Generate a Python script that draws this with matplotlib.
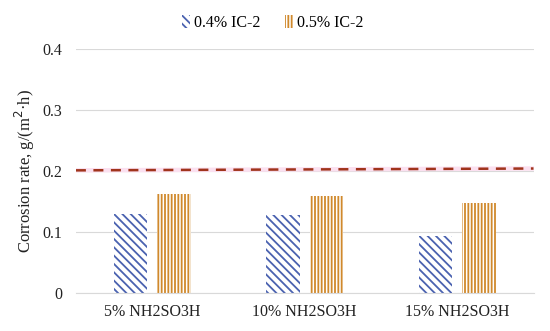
import numpy as np
import matplotlib.pyplot as plt

plt.rcParams['font.family'] = ['Liberation Serif', 'DejaVu Serif']
plt.rcParams['hatch.linewidth'] = 1.3

# Data
categories = ['5% NH2SO3H', '10% NH2SO3H', '15% NH2SO3H']
ic2_04 = [0.13, 0.128, 0.093]
ic2_05 = [0.162, 0.159, 0.148]
blank_line = [0.201, 0.204]

fig = plt.figure(figsize=(5.5, 3.31), dpi=100)
ax = fig.add_axes([0.138, 0.115, 0.832, 0.737])

x = np.arange(len(categories))
width = 0.22
offset = 0.142

# Bars with hatch patterns
ax.bar(x - offset, ic2_04, width, color='white', edgecolor='#4a62b0',
       hatch='\\\\\\\\', linewidth=0, label='0.4% IC-2')
ax.bar(x + offset, ic2_05, width, color='white', edgecolor='#d0892c',
       hatch='|||||', linewidth=0, label='0.5% IC-2')

# Dashed reference line
ax.plot([-0.5, 2.5], blank_line, color='#fbe0f0', linewidth=3.2, zorder=3)
ax.plot([-0.5, 2.5], blank_line, color='#a0341c', linewidth=1.8,
        linestyle=(0, (4, 3)), zorder=4)

ax.set_xlim(-0.5, 2.5)
ax.set_ylim(0, 0.4)
ax.set_yticks([0, 0.1, 0.2, 0.3, 0.4])
ax.set_yticklabels(['0', '0.1', '0.2', '0.3', '0.4'])
ax.set_xticks(x)
ax.set_xticklabels(categories)
ax.yaxis.grid(True, color='#d9d9d9', linewidth=0.8)
ax.set_axisbelow(True)
for s in ['top', 'right', 'left']:
    ax.spines[s].set_visible(False)
ax.spines['bottom'].set_color('#d9d9d9')
ax.tick_params(axis='both', length=0, labelsize=11.5, colors='#222222', pad=8)
ax.tick_params(axis='y', pad=10)
ax.set_ylabel('Corrosion rate, g/(m$^2$·h)', fontsize=12, color='#222222')

ax.legend(loc='upper center', bbox_to_anchor=(0.43, 1.2), ncol=2, frameon=False,
          fontsize=11.5, handlelength=0.5, handleheight=0.9, columnspacing=1.6,
          handletextpad=0.25)

fig.savefig('out.png', dpi=100)
